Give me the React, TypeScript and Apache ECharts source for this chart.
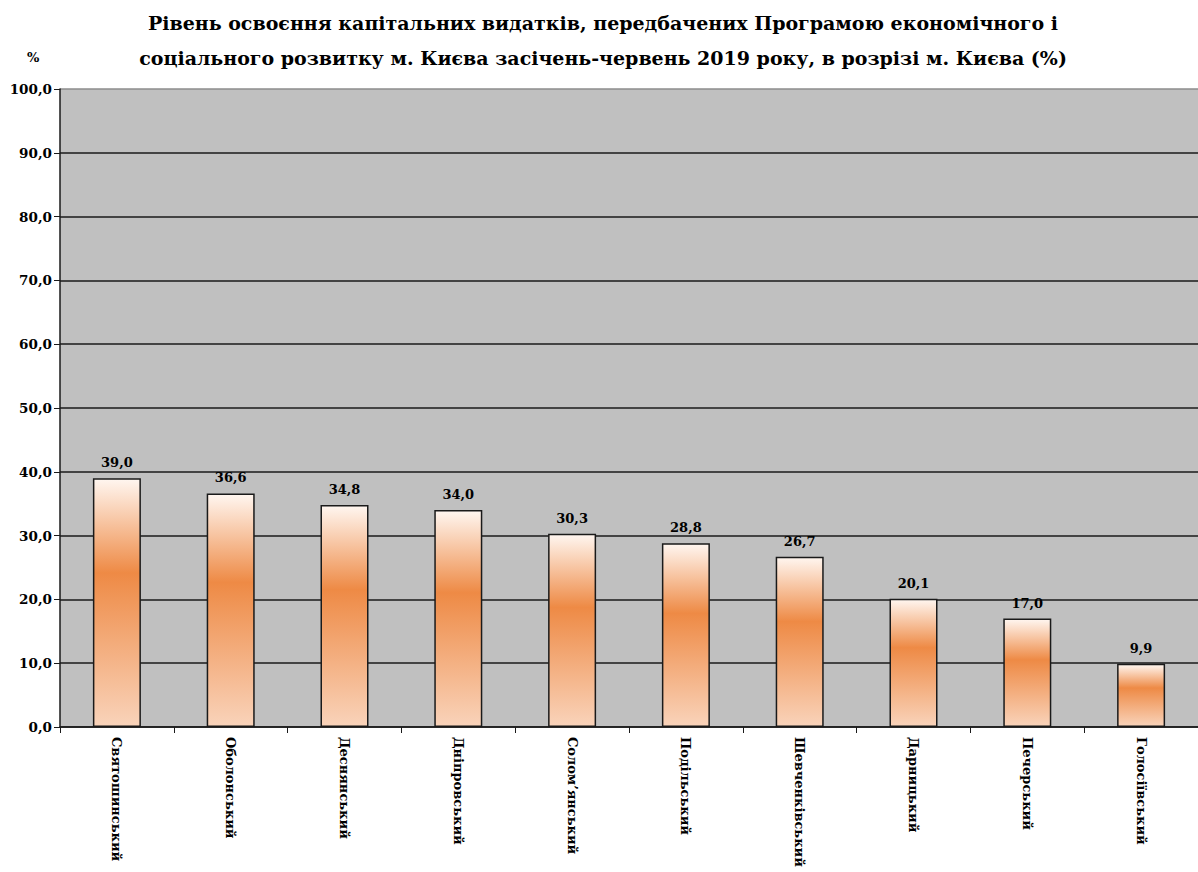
import React, { useEffect, useRef } from "react";
import * as echarts from "echarts";

const districts = [
  "Святошинський",
  "Оболонський",
  "Деснянський",
  "Дніпровський",
  "Солом’янський",
  "Подільський",
  "Шевченківський",
  "Дарницький",
  "Печерський",
  "Голосіївський",
];
const values = [39.0, 36.6, 34.8, 34.0, 30.3, 28.8, 26.7, 20.1, 17.0, 9.9];
const titleLines = [
  "Рівень освоєння капітальних видатків, передбачених Програмою економічного і",
  "соціального розвитку м. Києва засічень-червень 2019 року, в розрізі м. Києва (%)",
];

const FONT = "'DejaVu Serif', 'Liberation Serif', serif";
const fmt = (v: number) => v.toFixed(1).replace(".", ",");

export default function App() {
  const ref = useRef<HTMLDivElement>(null);
  useEffect(() => {
    if (!ref.current) return;
    const chart = echarts.init(ref.current, undefined, { renderer: "svg" });
    const gridColors = [
      "#1a1a1a", "#1a1a1a", "#1a1a1a", "#1a1a1a", "#1a1a1a", "#1a1a1a",
      "#1a1a1a", "#1a1a1a", "#1a1a1a", "#1a1a1a", "#8c8c8c",
    ];
    chart.setOption({
      animation: false,
      backgroundColor: "#ffffff",
      title: {
        text: titleLines.join("\n"),
        left: 598,
        textAlign: "center",
        top: 0,
        textStyle: {
          fontFamily: FONT,
          fontWeight: "bold",
          fontSize: 19,
          lineHeight: 35,
          color: "#000",
        },
      },
      graphic: [
        {
          type: "text",
          left: 27,
          top: 51,
          style: {
            text: "%",
            font: `bold 13px ${FONT}`,
            fill: "#000",
          },
        },
      ],
      grid: {
        left: 60,
        right: 0,
        top: 89,
        bottom: 145,
        outerBoundsMode: "none",
        containLabel: false,
        backgroundColor: "#c0c0c0",
        show: true,
        borderWidth: 0,
      },
      xAxis: {
        type: "category",
        data: districts,
        axisLine: { show: true, lineStyle: { color: "#1a1a1a", width: 1.5 } },
        axisTick: { show: true, alignWithLabel: false, length: 6, lineStyle: { color: "#1a1a1a" } },
        axisLabel: {
          rotate: -90,
          interval: 0,
          margin: 10,
          fontFamily: FONT,
          fontWeight: "bold",
          fontSize: 13,
          color: "#000",
        },
      },
      yAxis: {
        type: "value",
        min: 0,
        max: 100,
        interval: 10,
        axisLine: { show: true, lineStyle: { color: "#1a1a1a", width: 1.5 } },
        axisTick: { show: true, length: 6, lineStyle: { color: "#1a1a1a" } },
        axisLabel: {
          formatter: (v: number) => fmt(v),
          margin: 8,
          fontFamily: FONT,
          fontWeight: "bold",
          fontSize: 13.5,
          color: "#000",
        },
        splitLine: { show: true, lineStyle: { color: gridColors, width: 1.5 } },
      },
      series: [
        {
          type: "bar",
          data: values,
          barWidth: 48,
          itemStyle: {
            borderColor: "#1a1a1a",
            borderWidth: 1.5,
            color: new echarts.graphic.LinearGradient(0, 0, 0, 1, [
              { offset: 0, color: "#fff6f0" },
              { offset: 0.38, color: "#ee8a45" },
              { offset: 1, color: "#f9d3ba" },
            ]),
          },
          label: {
            show: true,
            position: "top",
            distance: 9,
            formatter: (p: any) => fmt(p.value),
            fontFamily: FONT,
            fontWeight: "bold",
            fontSize: 13,
            color: "#000",
          },
        },
      ],
    });
    return () => chart.dispose();
  }, []);
  return (
    <div
      ref={ref}
      style={{ position: "fixed", left: 0, top: 0, width: 1198, height: 872 }}
    />
  );
}
